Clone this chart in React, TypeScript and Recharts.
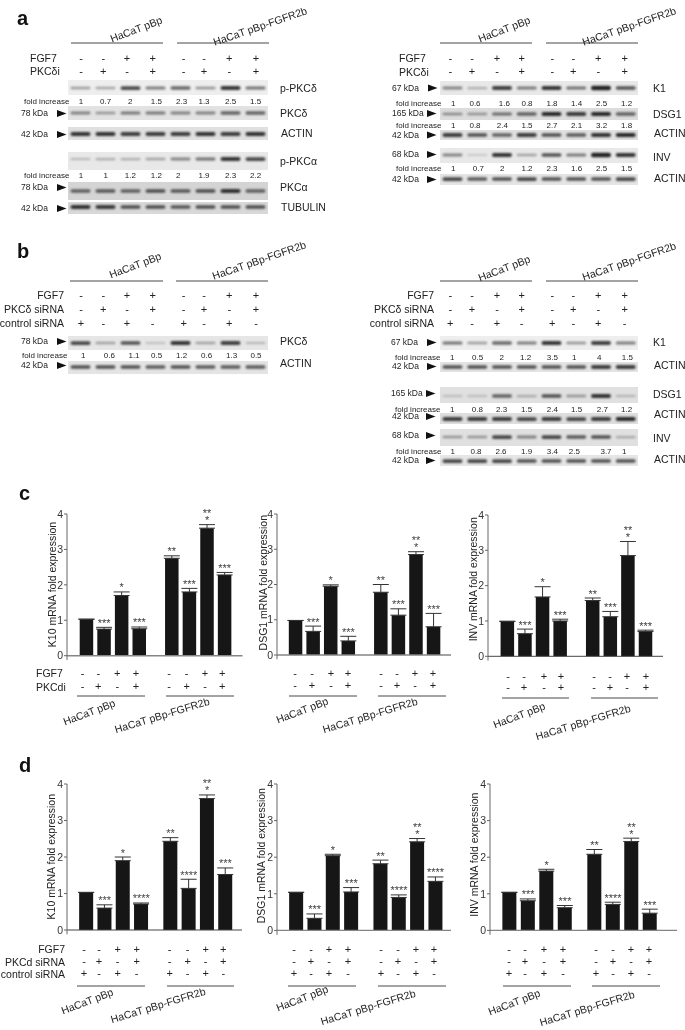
import React from "react";
import { ComposedChart, BarChart, Bar, Line, XAxis, YAxis, ErrorBar, ReferenceLine } from "recharts";

const FONT = '"Liberation Sans", Arial, sans-serif';

// ---------- bar chart values ----------
const LANE_SLOTS_C = [0, 1, 2, 3, 4.85, 5.85, 6.85, 7.85];
const LANE_SLOTS_D = [0, 1, 2, 3, 4.6, 5.6, 6.6, 7.6];

const C_K10 = [1.03, 0.75, 1.7, 0.76, 2.75, 1.8, 3.6, 2.28];
const C_K10_ERR = [0, 0.05, 0.1, 0.05, 0.07, 0.1, 0.1, 0.07];
const C_K10_SIG = ["", "***", "*", "***", "**", "***", "**\n*", "***"];
const C_DSG1 = [0.98, 0.67, 1.95, 0.4, 1.78, 1.13, 2.85, 0.8];
const C_DSG1_ERR = [0, 0.15, 0.04, 0.13, 0.22, 0.18, 0.08, 0.38];
const C_DSG1_SIG = ["", "***", "*", "***", "**", "***", "**\n*", "***"];
const C_INV = [0.99, 0.64, 1.68, 1.0, 1.58, 1.12, 2.85, 0.7];
const C_INV_ERR = [0, 0.13, 0.29, 0.05, 0.07, 0.15, 0.4, 0.04];
const C_INV_SIG = ["", "***", "*", "***", "**", "***", "**\n*", "***"];

const D_K10 = [1.03, 0.6, 1.9, 0.71, 2.43, 1.14, 3.6, 1.52];
const D_K10_ERR = [0, 0.09, 0.1, 0.03, 0.1, 0.25, 0.1, 0.18];
const D_K10_SIG = ["", "***", "*", "****", "**", "****", "**\n*", "***"];
const D_DSG1 = [1.04, 0.33, 2.04, 1.05, 1.82, 0.9, 2.42, 1.34];
const D_DSG1_ERR = [0, 0.12, 0.04, 0.12, 0.1, 0.07, 0.09, 0.12];
const D_DSG1_SIG = ["", "***", "*", "***", "**", "****", "**\n*", "****"];
const D_INV = [1.04, 0.81, 1.62, 0.62, 2.08, 0.71, 2.43, 0.47];
const D_INV_ERR = [0, 0.05, 0.05, 0.06, 0.13, 0.06, 0.09, 0.11];
const D_INV_SIG = ["", "***", "*", "***", "**", "****", "**\n*", "***"];

// ---------- treatment rows ----------
const FGF7 = ["-", "-", "+", "+", "-", "-", "+", "+"];
const INHIB = ["-", "+", "-", "+", "-", "+", "-", "+"];
const CTRL = ["+", "-", "+", "-", "+", "-", "+", "-"];
const TICK_VALUES = [0, 1, 2, 3, 4];

// ---------- blot band strengths ----------
const A_PPKCD = [0.35, 0.3, 0.75, 0.5, 0.6, 0.4, 0.85, 0.55];
const A_PKCD = [0.45, 0.35, 0.5, 0.5, 0.45, 0.45, 0.6, 0.6];
const A_ACTIN = [0.85, 0.85, 0.8, 0.8, 0.8, 0.85, 0.8, 0.85];
const A_PPKCA = [0.2, 0.25, 0.25, 0.3, 0.45, 0.55, 0.85, 0.75];
const A_PKCA = [0.6, 0.65, 0.6, 0.7, 0.65, 0.7, 0.85, 0.6];
const A_TUB = [0.85, 0.8, 0.7, 0.7, 0.65, 0.7, 0.7, 0.7];
const A2_K1 = [0.45, 0.25, 0.8, 0.5, 0.85, 0.55, 0.95, 0.7];
const A2_DSG1 = [0.4, 0.35, 0.55, 0.6, 0.9, 0.8, 0.9, 0.6];
const A2_ACTIN1 = [0.8, 0.7, 0.6, 0.8, 0.7, 0.65, 0.85, 0.9];
const A2_INV = [0.45, 0.1, 0.85, 0.3, 0.7, 0.5, 0.95, 0.85];
const A2_ACTIN2 = [0.75, 0.65, 0.7, 0.75, 0.7, 0.7, 0.7, 0.75];
const B_PKCD = [0.75, 0.3, 0.7, 0.15, 0.85, 0.3, 0.8, 0.2];
const B_ACTIN = [0.7, 0.7, 0.7, 0.65, 0.7, 0.65, 0.65, 0.65];
const B2_K1 = [0.55, 0.35, 0.6, 0.5, 0.85, 0.4, 0.8, 0.5];
const B2_ACTIN1 = [0.7, 0.7, 0.7, 0.7, 0.7, 0.7, 0.8, 0.8];
const B2_DSG1 = [0.15, 0.15, 0.6, 0.25, 0.7, 0.35, 0.85, 0.2];
const B2_ACTIN2 = [0.8, 0.8, 0.8, 0.75, 0.8, 0.75, 0.8, 0.9];
const B2_INV = [0.35, 0.35, 0.75, 0.45, 0.75, 0.65, 0.7, 0.25];
const B2_ACTIN3 = [0.75, 0.75, 0.75, 0.7, 0.7, 0.7, 0.7, 0.7];

// ---------- fold increase labels ----------
const F_A1 = ["1", "0.7", "2", "1.5", "2.3", "1.3", "2.5", "1.5"];
const F_A2 = ["1", "1", "1.2", "1.2", "2", "1.9", "2.3", "2.2"];
const F_A3 = ["1", "0.6", "1.6", "0.8", "1.8", "1.4", "2.5", "1.2"];
const F_A4 = ["1", "0.8", "2.4", "1.5", "2.7", "2.1", "3.2", "1.8"];
const F_A5 = ["1", "0.7", "2", "1.2", "2.3", "1.6", "2.5", "1.5"];
const F_B1 = ["1", "0.6", "1.1", "0.5", "1.2", "0.6", "1.3", "0.5"];
const F_B2 = ["1", "0.5", "2", "1.2", "3.5", "1", "4", "1.5"];
const F_B3 = ["1", "0.8", "2.3", "1.5", "2.4", "1.5", "2.7", "1.2"];
const F_B4 = ["1", "0.8", "2.6", "1.9", "3.4", "2.5", "3.7", "1"];

// ---------- layout ----------
const STRIP_L = { x: 68, w: 200 };
const STRIP_R = { x: 440, w: 198 };

const STRIPS = [
  { ...STRIP_L, y: 80, h: 15, band: 88, v: A_PPKCD, bg: "#eeeeee" },
  { ...STRIP_L, y: 106, h: 14, band: 113, v: A_PKCD, bg: "#e2e2e2" },
  { ...STRIP_L, y: 127, h: 13, band: 134, v: A_ACTIN, bg: "#e0e0e0" },
  { ...STRIP_L, y: 152, h: 18, band: 159, v: A_PPKCA, bg: "#e8e8e8" },
  { ...STRIP_L, y: 182, h: 18, band: 191, v: A_PKCA, bg: "#d4d4d4" },
  { ...STRIP_L, y: 202, h: 12, band: 207, v: A_TUB, bg: "#d8d8d8" },
  { ...STRIP_R, y: 81, h: 14, band: 88, v: A2_K1, bg: "#e8e8e8" },
  { ...STRIP_R, y: 108, h: 12, band: 114, v: A2_DSG1, bg: "#dcdcdc" },
  { ...STRIP_R, y: 130, h: 10, band: 135, v: A2_ACTIN1, bg: "#e0e0e0" },
  { ...STRIP_R, y: 148, h: 15, band: 155, v: A2_INV, bg: "#e8e8e8" },
  { ...STRIP_R, y: 174, h: 11, band: 179, v: A2_ACTIN2, bg: "#e4e4e4" },
  { ...STRIP_L, y: 336, h: 14, band: 343, v: B_PKCD, bg: "#e6e6e6" },
  { ...STRIP_L, y: 361, h: 13, band: 367, v: B_ACTIN, bg: "#e4e4e4" },
  { ...STRIP_R, y: 336, h: 14, band: 343, v: B2_K1, bg: "#eeeeee" },
  { ...STRIP_R, y: 362, h: 10, band: 367, v: B2_ACTIN1, bg: "#e4e4e4" },
  { ...STRIP_R, y: 387, h: 16, band: 396, v: B2_DSG1, bg: "#e0e0e0" },
  { ...STRIP_R, y: 413, h: 11, band: 419, v: B2_ACTIN2, bg: "#dedede" },
  { ...STRIP_R, y: 429, h: 17, band: 437, v: B2_INV, bg: "#e0e0e0" },
  { ...STRIP_R, y: 455, h: 11, band: 461, v: B2_ACTIN3, bg: "#e6e6e6" },
];

const z3 = (a: number[], off = 0) => a.map((v) => v / 3 + off);
const LEFT_SIGNS = z3([243, 310, 381, 458, 551, 612, 688, 768]);
const RIGHT_SIGNS = z3([316, 381, 456, 530, 622, 685, 760, 839], 345);

const FOLD_ROWS = [
  { y: 101.5, lx: 24, v: F_A1, xs: z3([243, 317, 391, 469, 545, 612, 692, 767]) },
  { y: 175, lx: 24, v: F_A2, xs: z3([243, 317, 391, 469, 535, 612, 692, 767]) },
  { y: 103, lx: 396, v: F_A3, xs: z3([325, 390, 478, 546, 621, 695, 770, 845], 345) },
  { y: 125, lx: 396, v: F_A4, xs: z3([325, 390, 472, 546, 621, 695, 770, 845], 345) },
  { y: 168, lx: 396, v: F_A5, xs: z3([325, 400, 472, 546, 621, 695, 770, 845], 345) },
  { y: 355, lx: 22, v: F_B1, xs: z3([250, 328, 402, 470, 545, 620, 695, 768]) },
  { y: 357, lx: 395, v: F_B2, xs: z3([322, 398, 470, 542, 622, 688, 763, 847], 345) },
  { y: 409, lx: 395, v: F_B3, xs: z3([322, 397, 470, 545, 622, 695, 772, 845], 345) },
  { y: 451, lx: 396, v: F_B4, xs: z3([323, 393, 468, 545, 622, 688, 783, 838], 345) },
];

const KDA = [
  { t: "78 kDa", x: 21, y: 113, ax: 57 },
  { t: "42 kDa", x: 21, y: 134, ax: 57 },
  { t: "78 kDa", x: 21, y: 187, ax: 57 },
  { t: "42 kDa", x: 21, y: 208, ax: 57 },
  { t: "67 kDa", x: 392, y: 87.5, ax: 428 },
  { t: "165 kDa", x: 392, y: 113, ax: 427 },
  { t: "42 kDa", x: 392, y: 134.5, ax: 427 },
  { t: "68 kDa", x: 392, y: 154, ax: 427 },
  { t: "42 kDa", x: 392, y: 179, ax: 427 },
  { t: "78 kDa", x: 21, y: 341, ax: 57 },
  { t: "42 kDa", x: 21, y: 365, ax: 57 },
  { t: "67 kDa", x: 391, y: 342, ax: 427 },
  { t: "42 kDa", x: 392, y: 366, ax: 427 },
  { t: "165 kDa", x: 391, y: 393, ax: 426 },
  { t: "42 kDa", x: 392, y: 416, ax: 426 },
  { t: "68 kDa", x: 392, y: 435, ax: 426 },
  { t: "42 kDa", x: 392, y: 460, ax: 426 },
];

const PROTEINS = [
  { t: "p-PKCδ", x: 280, y: 87.5 },
  { t: "PKCδ", x: 280, y: 113 },
  { t: "ACTIN", x: 281, y: 133 },
  { t: "p-PKCα", x: 280, y: 161 },
  { t: "PKCα", x: 280, y: 187 },
  { t: "TUBULIN", x: 281, y: 206.5 },
  { t: "K1", x: 653, y: 88 },
  { t: "DSG1", x: 653, y: 114 },
  { t: "ACTIN", x: 654, y: 133 },
  { t: "INV", x: 653, y: 157 },
  { t: "ACTIN", x: 654, y: 178 },
  { t: "PKCδ", x: 280, y: 341 },
  { t: "ACTIN", x: 280, y: 363 },
  { t: "K1", x: 653, y: 342 },
  { t: "ACTIN", x: 654, y: 365 },
  { t: "DSG1", x: 653, y: 394 },
  { t: "ACTIN", x: 654, y: 414 },
  { t: "INV", x: 653, y: 438 },
  { t: "ACTIN", x: 654, y: 459 },
];

const TITLE_GROUPS = [
  { y: 43, a: [71, 163], b: [177, 269], t1: [136, 29], t2: [260, 26] },
  { y: 43, a: [440, 532], b: [546, 638], t1: [504, 29], t2: [629, 26] },
  { y: 281, a: [70, 163], b: [176, 268], t1: [135, 265], t2: [259, 260] },
  { y: 281, a: [440, 532], b: [546, 638], t1: [504, 268], t2: [629, 261] },
];

const CHART_GROUPS = [
  { y: 696, a: [77, 145], b: [166, 234], t1: [89, 712], t2: [162, 715] },
  { y: 696, a: [289, 357], b: [378, 446], t1: [302, 710], t2: [370, 715] },
  { y: 698, a: [502, 569], b: [591, 658], t1: [519, 715], t2: [583, 722] },
  { y: 986, a: [77, 145], b: [167, 234], t1: [87, 1001], t2: [158, 1005] },
  { y: 986, a: [288, 356], b: [378, 446], t1: [302, 998], t2: [368, 1007] },
  { y: 986, a: [503, 571], b: [592, 660], t1: [514, 1002], t2: [587, 1008] },
];

const SIGN_ROWS = [
  { xs: z3([248, 295, 352, 408, 507, 560, 615, 667]), rows: [[FGF7, 673], [INHIB, 686]] },
  { xs: [295, 312, 331, 348, 381, 397, 415, 433], rows: [[FGF7, 673], [INHIB, 685]] },
  { xs: [508, 524, 544, 561, 594, 610, 627, 646], rows: [[FGF7, 676], [INHIB, 687]] },
  { xs: z3([252, 297, 353, 410, 509, 563, 617, 670]), rows: [[FGF7, 949], [INHIB, 961], [CTRL, 973]] },
  { xs: [294, 311, 329, 348, 381, 398, 416, 434], rows: [[FGF7, 949], [INHIB, 961], [CTRL, 973]] },
  { xs: [509, 525, 544, 563, 596, 613, 631, 649], rows: [[FGF7, 949], [INHIB, 961], [CTRL, 973]] },
];

const T = ({ x, y, s = 10.5, a = "start", rot, w, c = "#222", children }: any) => (
  <text
    x={x}
    y={y}
    fontSize={s}
    fontFamily={FONT}
    fontWeight={w}
    textAnchor={a}
    fill={c}
    dominantBaseline="central"
    transform={rot ? `rotate(${rot} ${x} ${y})` : undefined}
  >
    {children}
  </text>
);

function bandShape(centerY: number, boxH: number) {
  return (p: any) => {
    const strength = p.height / boxH;
    const t = 1.5 + strength * 3;
    return (
      <rect
        x={p.x}
        y={centerY - t / 2}
        width={p.width}
        height={t}
        rx={t / 2}
        fill="#000"
        fillOpacity={0.05 + strength * 0.85}
        style={{ filter: "blur(0.8px)" }}
      />
    );
  };
}

function Strip({ x, y, w, h, band, v, bg }: any) {
  const data = v.map((val: number, i: number) => ({ lane: i, val }));
  return (
    <div style={{ position: "absolute", left: x, top: y, width: w, height: h, background: bg }}>
      <BarChart width={w} height={h} data={data} margin={{ top: 0, right: 0, bottom: 0, left: 0 }} barCategoryGap="10%">
        <XAxis dataKey="lane" hide />
        <YAxis hide domain={[0, 1]} />
        <Bar dataKey="val" isAnimationActive={false} shape={bandShape(band - y, h)} />
      </BarChart>
    </div>
  );
}

function Stars(sig: string[]) {
  return (p: any) => {
    const txt = sig[p.index];
    if (!txt) return <g key={p.index} />;
    const parts = txt.split("\n");
    return (
      <text
        key={p.index}
        x={p.x}
        y={p.y - 0.5 - (parts.length - 1) * 7}
        textAnchor="middle"
        fontSize={11}
        fontFamily={FONT}
        fill="#444"
      >
        {parts.map((s, i) => (
          <tspan key={i} x={p.x} dy={i === 0 ? 0 : 7}>
            {s}
          </tspan>
        ))}
      </text>
    );
  };
}

function Panel({ g, slots, values, errs, sig, title }: any) {
  const boxL = g.axisX - 32;
  const boxT = g.y4 - 18;
  const ext = 0.12;
  const unit = (g.y0 - g.y4) / 4;
  const boxW = g.right - boxL + 4;
  const boxH = g.y0 - boxT + 9;
  const yaw = 18;
  const data = values.map((v: number, i: number) => ({
    slot: slots[i],
    value: v,
    range: [0, errs[i]],
    top: v + errs[i],
  }));
  const domainX = [(g.axisX - g.firstX) / g.step, (g.right - g.firstX) / g.step];
  return (
    <div style={{ position: "absolute", left: boxL, top: boxT, width: boxW, height: boxH }}>
      <ComposedChart
        width={boxW}
        height={boxH}
        data={data}
        margin={{ top: g.y4 - boxT, left: g.axisX - boxL - yaw, right: 4, bottom: boxH - (g.y0 + ext * unit - boxT) }}
        style={{ overflow: "visible" }}
      >
        <XAxis dataKey="slot" type="number" domain={domainX} hide allowDataOverflow />
        <YAxis
          type="number"
          width={yaw}
          domain={[-ext, 4]}
          ticks={TICK_VALUES}
          interval={0}
          allowDataOverflow
          tick={{ fontSize: 10.5, fill: "#333", fontFamily: FONT }}
          tickSize={3}
          tickMargin={1}
          axisLine={{ stroke: "#666", strokeWidth: 1 }}
          tickLine={{ stroke: "#666", strokeWidth: 1 }}
          label={{
            content: () => (
              <text
                x={g.labelX - boxL}
                y={g.labelY - boxT}
                fontSize={10.5}
                fontFamily={FONT}
                fill="#222"
                textAnchor="middle"
                dominantBaseline="central"
                transform={`rotate(-90 ${g.labelX - boxL} ${g.labelY - boxT})`}
              >
                {title}
              </text>
            ),
          } as any}
        />
        <Bar dataKey="value" barSize={g.barW} fill="#161616" isAnimationActive={false}>
          <ErrorBar dataKey="range" width={8} stroke="#333" strokeWidth={1} direction="y" isAnimationActive={false} />
        </Bar>
        <Line dataKey="top" stroke="none" dot={false} isAnimationActive={false} label={Stars(sig)} />
        <ReferenceLine y={0} stroke={g.base || "#858585"} strokeWidth={g.base ? 1 : 1.4} />
      </ComposedChart>
    </div>
  );
}

const Arrow = ({ x, y }: any) => <polygon points={`${x},${y - 3.5} ${x + 9.5},${y} ${x},${y + 3.5}`} fill="#111" />;

const Group = ({ g }: any) => (
  <g>
    <line x1={g.a[0]} x2={g.a[1]} y1={g.y} y2={g.y} stroke="#333" strokeWidth={0.9} />
    <line x1={g.b[0]} x2={g.b[1]} y1={g.y} y2={g.y} stroke="#333" strokeWidth={0.9} />
  </g>
);

export default function App() {
  return (
    <div style={{ position: "absolute", left: 0, top: 0, width: 685, height: 1030, background: "#fff", overflow: "hidden", filter: "blur(0.3px)" }}>
      {STRIPS.map((s, i) => (
        <Strip key={i} {...s} />
      ))}

      <Panel title="K10 mRNA fold expression" slots={LANE_SLOTS_C} values={C_K10} errs={C_K10_ERR} sig={C_K10_SIG}
        g={{ axisX: 66.5, y4: 514, y0: 655.7, right: 242, firstX: 86, step: 17.6, barW: 13.5, labelX: 52.5, labelY: 584.5 }} />
      <Panel title="DSG1 mRNA fold expression" slots={LANE_SLOTS_C} values={C_DSG1} errs={C_DSG1_ERR} sig={C_DSG1_SIG}
        g={{ axisX: 276.7, y4: 514.3, y0: 655.3, right: 450.7, firstX: 295.3, step: 17.58, barW: 13.5, labelX: 263, labelY: 583 }} />
      <Panel title="INV mRNA fold expression" slots={LANE_SLOTS_C} values={C_INV} errs={C_INV_ERR} sig={C_INV_SIG}
        g={{ axisX: 488.3, y4: 514.7, y0: 656, right: 663.3, firstX: 507.7, step: 17.6, barW: 13.5, labelX: 474, labelY: 579, base: "#444" }} />
      <Panel title="K10 mRNA fold expression" slots={LANE_SLOTS_D} values={D_K10} errs={D_K10_ERR} sig={D_K10_SIG}
        g={{ axisX: 66.7, y4: 784.3, y0: 930.3, right: 241.7, firstX: 86, step: 18.3, barW: 14, labelX: 50.7, labelY: 857, base: "#444" }} />
      <Panel title="DSG1 mRNA fold expression" slots={LANE_SLOTS_D} values={D_DSG1} errs={D_DSG1_ERR} sig={D_DSG1_SIG}
        g={{ axisX: 276.7, y4: 784.3, y0: 930.7, right: 450.7, firstX: 296, step: 18.33, barW: 14, labelX: 261, labelY: 856 }} />
      <Panel title="INV mRNA fold expression" slots={LANE_SLOTS_D} values={D_INV} errs={D_INV_ERR} sig={D_INV_SIG}
        g={{ axisX: 489.7, y4: 784.3, y0: 930.7, right: 676.7, firstX: 509.3, step: 18.47, barW: 14, labelX: 474, labelY: 855 }} />

      <svg width={685} height={1030} style={{ position: "absolute", left: 0, top: 0, pointerEvents: "none" }}>
        <T x={17} y={18} s={20} w="bold" c="#111">a</T>
        <T x={17} y={251} s={20} w="bold" c="#111">b</T>
        <T x={19} y={493} s={20} w="bold" c="#111">c</T>
        <T x={19} y={765} s={20} w="bold" c="#111">d</T>

        {TITLE_GROUPS.map((g, i) => (
          <g key={i}>
            <Group g={g} />
            <T x={g.t1[0]} y={g.t1[1]} a="middle" rot={-21}>HaCaT pBp</T>
            <T x={g.t2[0]} y={g.t2[1]} a="middle" rot={-19}>HaCaT pBp-FGFR2b</T>
          </g>
        ))}
        {CHART_GROUPS.map((g, i) => (
          <g key={i}>
            <Group g={g} />
            <T x={g.t1[0]} y={g.t1[1]} a="middle" rot={-21}>HaCaT pBp</T>
            <T x={g.t2[0]} y={g.t2[1]} a="middle" rot={-17}>HaCaT pBp-FGFR2b</T>
          </g>
        ))}

        {/* panel a labels */}
        <T x={30} y={57.5}>FGF7</T>
        <T x={30} y={71}>PKCδi</T>
        <T x={399} y={58}>FGF7</T>
        <T x={399} y={71.5}>PKCδi</T>
        {/* panel b labels */}
        <T x={64} y={295} a="end">FGF7</T>
        <T x={64} y={309} a="end">PKCδ siRNA</T>
        <T x={64} y={323} a="end">control siRNA</T>
        <T x={434} y={295} a="end">FGF7</T>
        <T x={434} y={309} a="end">PKCδ siRNA</T>
        <T x={434} y={323} a="end">control siRNA</T>
        {/* panel c, d labels */}
        <T x={36} y={673}>FGF7</T>
        <T x={36} y={687}>PKCdi</T>
        <T x={65} y={949} a="end">FGF7</T>
        <T x={65} y={962} a="end">PKCd siRNA</T>
        <T x={65} y={974} a="end">control siRNA</T>

        {[
          [LEFT_SIGNS, FGF7, 57.5],
          [LEFT_SIGNS, INHIB, 71],
          [RIGHT_SIGNS, FGF7, 57.5],
          [RIGHT_SIGNS, INHIB, 71],
          [LEFT_SIGNS, FGF7, 295],
          [LEFT_SIGNS, INHIB, 309],
          [LEFT_SIGNS, CTRL, 323],
          [RIGHT_SIGNS, FGF7, 295],
          [RIGHT_SIGNS, INHIB, 309],
          [RIGHT_SIGNS, CTRL, 323],
        ].map(([xs, row, y]: any, i) =>
          row.map((s: string, j: number) => (
            <T key={`${i}-${j}`} x={xs[j]} y={y} a="middle" s={11}>{s}</T>
          ))
        )}
        {SIGN_ROWS.map((block: any, i) =>
          block.rows.map(([row, y]: any, r: number) =>
            row.map((s: string, j: number) => (
              <T key={`${i}-${r}-${j}`} x={block.xs[j]} y={y} a="middle" s={11}>{s}</T>
            ))
          )
        )}

        {FOLD_ROWS.map((r, i) => (
          <g key={i}>
            <T x={r.lx} y={r.y} s={8}>fold increase</T>
            {r.v.map((t, j) => (
              <T key={j} x={r.xs[j]} y={r.y} s={8} a="middle">{t}</T>
            ))}
          </g>
        ))}
        {KDA.map((k, i) => (
          <g key={i}>
            <T x={k.x} y={k.y} s={8.5}>{k.t}</T>
            <Arrow x={k.ax} y={k.y + 0.5} />
          </g>
        ))}
        {PROTEINS.map((p, i) => (
          <T key={i} x={p.x} y={p.y}>{p.t}</T>
        ))}
      </svg>
    </div>
  );
}
